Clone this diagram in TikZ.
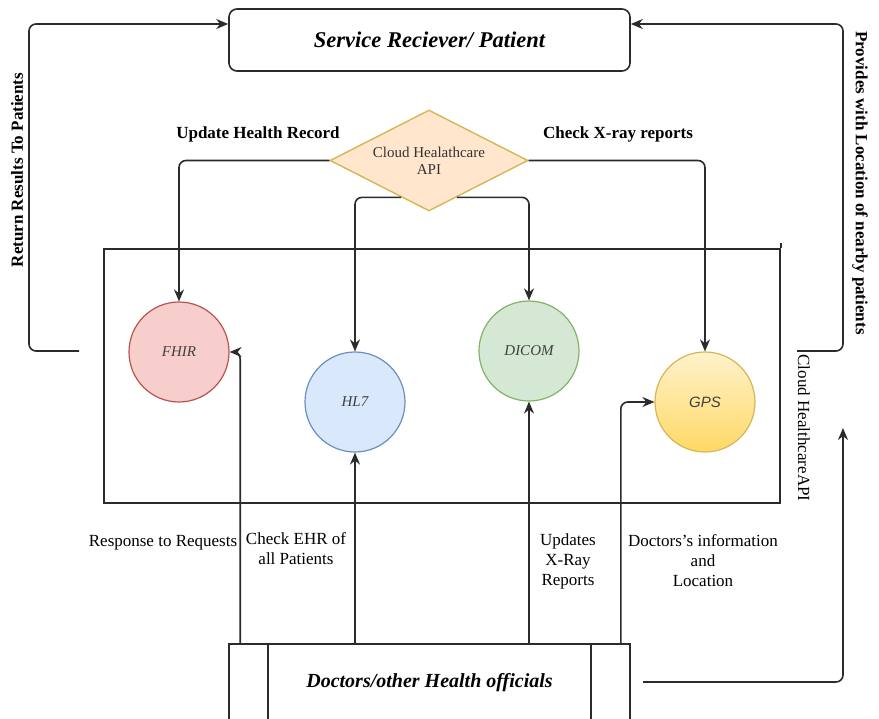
\documentclass[tikz,border=0pt]{standalone}
\usepackage{fontspec}
\setmainfont{Liberation Serif}
\setsansfont{Liberation Sans}
\usetikzlibrary{shapes.geometric,arrows.meta,calc}
\definecolor{linec}{HTML}{2B2B2B}
\definecolor{fhirfill}{HTML}{F8CECC}\definecolor{fhirline}{HTML}{B85450}
\definecolor{hlfill}{HTML}{DAE8FC}\definecolor{hlline}{HTML}{6C8EBF}
\definecolor{dcfill}{HTML}{D5E8D4}\definecolor{dcline}{HTML}{82B366}
\definecolor{gpstop}{HTML}{FFF2CC}\definecolor{gpsbot}{HTML}{FFD966}\definecolor{gpsline}{HTML}{D6B656}
\definecolor{apifill}{HTML}{FFE6CC}\definecolor{apiline}{HTML}{D6B656}
\tikzset{
  conn/.style={draw=linec, line width=1.6pt, rounded corners=7pt, -{Stealth[length=12pt,width=10pt]}},
  plain/.style={draw=linec, line width=1.6pt},
  proto/.style={circle, minimum size=100pt, inner sep=0pt, line width=1.2pt,
    font=\fontsize{15}{17}\selectfont\itshape, text=black!75},
  lbl/.style={font=\fontsize{17}{20}\selectfont, align=center, inner sep=0pt},
  blbl/.style={font=\fontsize{17}{20}\selectfont\bfseries, align=center, inner sep=0pt},
  titlebox/.style={draw=linec, line width=1.6pt, rounded corners=8pt, inner sep=0pt,
    font=\fontsize{22.5}{26}\selectfont\bfseries\itshape}
}
\begin{document}
\begin{tikzpicture}[x=1pt,y=-1pt]
\clip (0,0) rectangle (879,719);
\fill[white] (0,0) rectangle (879,719);

% main entities
\node[titlebox, minimum width=401pt, minimum height=62pt] (svc) at (429.5,40) {Service Reciever/ Patient};
\node[draw=apiline, fill=apifill, line width=1.4pt, diamond, aspect=1.96, inner sep=0pt,
      minimum width=198pt, minimum height=101pt,
      font=\fontsize{15}{17}\selectfont, text=black!80, align=center] (api) at (429,160.5) {Cloud Healathcare\\API};

% cloud healthcare container
\node[plain, minimum width=676pt, minimum height=254pt, inner sep=0pt] (cloud) at (442,376) {};
\draw[plain] (cloud.north east) -- ++(0,-5);
\node[lbl, rotate=-90] (cloudlbl) at (804,428) {Cloud HealthcareAPI};

% protocol services
\node[proto, draw=fhirline, fill=fhirfill] (fhir) at (179,352) {FHIR};
\node[proto, draw=hlline, fill=hlfill] (hl7) at (355,402) {HL7};
\node[proto, draw=dcline, fill=dcfill] (dicom) at (529,351) {DICOM};
\node[proto, draw=gpsline, top color=gpstop, bottom color=gpsbot, font=\fontsize{15}{17}\selectfont\sffamily\itshape] (gps) at (705,402) {GPS};

% doctors process box
\node[plain, minimum width=401pt, minimum height=78pt, inner sep=0pt,
      font=\fontsize{20}{24}\selectfont\bfseries\itshape] (doc) at (429.5,683) {Doctors/other Health officials};
\draw[plain] ([xshift=40pt]doc.north west) -- ([xshift=40pt]doc.south west);
\draw[plain] ([xshift=-40pt]doc.north east) -- ([xshift=-40pt]doc.south east);

% API to services
\draw[conn] (api.west) -| (fhir.north);
\draw[conn] (api.east) -| (gps.north);
\coordinate (apiL) at ($(api.west)!0.72!(api.south)$);
\coordinate (apiR) at ($(api.east)!0.72!(api.south)$);
\draw[conn] (apiL) -| (hl7.north);
\draw[conn] (apiR) -| (dicom.north);
\node[blbl] (l1) at (258,134) {Update Health Record};
\node[blbl] (l2) at (618,134) {Check X-ray reports};

% results back to patient
\coordinate (rrs) at (79,351);
\draw[conn] (rrs) -- ++(-50,0) |- ([yshift=16pt]svc.west);
\node[blbl, rotate=90] (l3) at (17,170) {Return Results To Patients};
\coordinate (pls) at (797,351);
\draw[conn] (pls) -- ++(46,0) |- ([yshift=16pt]svc.east);
\node[blbl, rotate=-90] (l4) at (860,183) {Provides with Location of nearby patients};

% doctors to services
\draw[conn] ([xshift=12pt]doc.north west) |- (fhir.east);
\draw[conn] (doc.north -| hl7.south) -- (hl7.south);
\draw[conn] (doc.north -| dicom.south) -- (dicom.south);
\draw[conn] ([xshift=-10pt]doc.north east) |- (gps.west);
\coordinate (des) at (643,682);
\coordinate (dee) at (843,428);
\draw[conn] (des) -| (dee);

\node[lbl] (l5) at (163,543) {Response to Requests};
\node[lbl] (l6) at (296,549) {Check EHR of\\all Patients};
\node[lbl] (l7) at (568,561) {Updates\\X-Ray\\Reports};
\node[lbl] (l8) at (703,561) {Doctors's information\\and\\Location};
\end{tikzpicture}
\end{document}
